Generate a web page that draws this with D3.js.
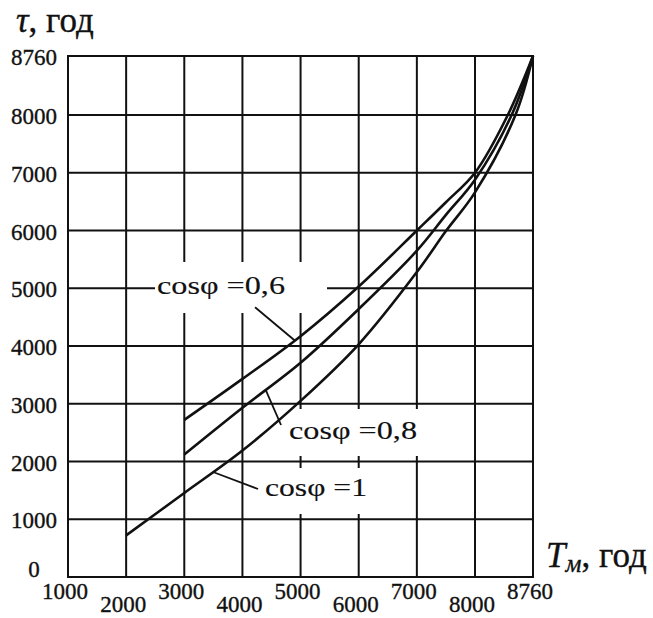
<!DOCTYPE html>
<html>
<head>
<meta charset="utf-8">
<script src="https://cdn.jsdelivr.net/npm/d3@7"></script>
<style>
  body { margin: 0; background: #fff; }
  text { font-family: "Liberation Serif", "DejaVu Serif", serif; fill: #111; stroke: #111; stroke-width: 0.35px; }
  text.clabel { stroke-width: 0.15px; }
</style>
</head>
<body>
<div id="chart"></div>
<script>
var svgWidth = 653;
var svgHeight = 618;

// axis ticks (the last step 8000 -> 8760 gets a full grid cell)
var xTicks = [1000, 2000, 3000, 4000, 5000, 6000, 7000, 8000, 8760];
var yTicks = [0, 1000, 2000, 3000, 4000, 5000, 6000, 7000, 8000, 8760];

// T_max values and tau for each cos(phi)
var tm06 = [3000, 4000, 5000, 6000, 7000, 7500, 8000, 8430, 8760];
var tau06 = [2720, 3430, 4170, 5030, 6000, 6490, 7000, 8000, 8760];

var tm08 = [3000, 4000, 5000, 6000, 7000, 7500, 8000, 8480, 8760];
var tau08 = [2120, 2930, 3710, 4640, 5650, 6270, 6880, 8000, 8760];

var tm10 = [2000, 3000, 4000, 5000, 6000, 7000, 7500, 8000, 8530, 8760];
var tau10 = [720, 1455, 2190, 3050, 4030, 5280, 5990, 6660, 8000, 8760];

var curveNames = ["cosφ =0,6", "cosφ =0,8", "cosφ =1"];

var svg = d3.select("#chart")
  .append("svg")
  .attr("width", svgWidth)
  .attr("height", svgHeight);

// polylinear scales, break at 8000
var x = d3.scaleLinear()
  .domain([1000, 8000, 8760])
  .range([68, 475, 533]);
var y = d3.scaleLinear()
  .domain([0, 8000, 8760])
  .range([577, 115, 56]);

var ink = "#111";

// vertical grid lines
svg.append("g").selectAll("line")
  .data(xTicks)
  .enter()
  .append("line")
  .attr("x1", d => x(d)).attr("x2", d => x(d))
  .attr("y1", y(0)).attr("y2", y(8760))
  .attr("stroke", ink)
  .attr("stroke-width", 2);

// the verticals are broken around the labels
var vGaps = [[155, 262, 172, 51], [285, 409, 140, 47], [258, 468, 114, 46]];
svg.append("g").selectAll("rect")
  .data(vGaps)
  .enter()
  .append("rect")
  .attr("x", d => d[0]).attr("y", d => d[1])
  .attr("width", d => d[2]).attr("height", d => d[3])
  .attr("fill", "#fff");

// horizontal grid lines
svg.append("g").selectAll("line")
  .data(yTicks)
  .enter()
  .append("line")
  .attr("x1", x(1000) - 1).attr("x2", x(8760) + 1)
  .attr("y1", d => y(d)).attr("y2", d => y(d))
  .attr("stroke", ink)
  .attr("stroke-width", 2);

// gap in the 5000 line for the top label
svg.append("rect")
  .attr("x", 155).attr("y", 262)
  .attr("width", 172).attr("height", 51)
  .attr("fill", "#fff");

// tick labels
svg.append("g").selectAll("text")
  .data(yTicks)
  .enter()
  .append("text")
  .attr("x", 34)
  .attr("y", d => y(d) + (d === 0 ? -8 : 1))
  .attr("dy", "0.35em")
  .attr("text-anchor", "middle")
  .attr("font-size", 23)
  .text(d => d);

svg.append("g").selectAll("text")
  .data(xTicks)
  .enter()
  .append("text")
  .attr("x", d => x(d) - 3)
  .attr("y", (d, i) => i % 2 === 0 ? 599 : 612)
  .attr("text-anchor", "middle")
  .attr("font-size", 23)
  .text(d => d);

// axis titles
var yTitle = svg.append("text")
  .attr("x", 16)
  .attr("y", 32)
  .attr("font-size", 35);
yTitle.append("tspan").attr("font-style", "italic").text("τ");
yTitle.append("tspan").text(", год");

var xTitle = svg.append("text")
  .attr("x", 546)
  .attr("y", 567)
  .attr("font-size", 35);
xTitle.append("tspan").attr("font-style", "italic").text("T");
xTitle.append("tspan").attr("font-style", "italic").attr("font-size", 25).attr("dy", 5).text("м");
xTitle.append("tspan").attr("dy", -5).text(", год");

// curves
var series = [
  tm06.map((t, i) => [t, tau06[i]]),
  tm08.map((t, i) => [t, tau08[i]]),
  tm10.map((t, i) => [t, tau10[i]])
];

var line = d3.line()
  .x(d => x(d[0]))
  .y(d => y(d[1]))
  .curve(d3.curveCatmullRom.alpha(0.5));

svg.append("g").selectAll("path")
  .data(series)
  .enter()
  .append("path")
  .attr("d", line)
  .attr("fill", "none")
  .attr("stroke", ink)
  .attr("stroke-width", 2.6);

// tau on a curve at a given T (for the leader ends)
function tauAt(s, t) {
  var tx = s.map(d => d[0]);
  var ty = s.map(d => d[1]);
  return d3.scaleLinear().domain(tx).range(ty)(t);
}

// leaders: [curve index, T on curve, T at label end, tau at label end]
var leaders = [[0, 4900, 4217, 4670], [1, 4400, 4664, 2632], [2, 3494, 4268, 1524]];
svg.append("g").selectAll("line")
  .data(leaders)
  .enter()
  .append("line")
  .attr("x1", d => x(d[1])).attr("y1", d => y(tauAt(series[d[0]], d[1])))
  .attr("x2", d => x(d[2])).attr("y2", d => y(d[3]))
  .attr("stroke", ink)
  .attr("stroke-width", 1.8);

// curve labels, the source face is wider than Times
var labelPos = [[157, 294], [289, 439], [265, 496]];
svg.append("g").selectAll("text")
  .data(curveNames)
  .enter()
  .append("text")
  .attr("class", "clabel")
  .attr("x", (d, i) => labelPos[i][0])
  .attr("y", (d, i) => labelPos[i][1])
  .attr("font-size", 26)
  .attr("textLength", (d, i) => i === 2 ? 102 : 128)
  .attr("lengthAdjust", "spacingAndGlyphs")
  .text(d => d);
</script>
</body>
</html>
